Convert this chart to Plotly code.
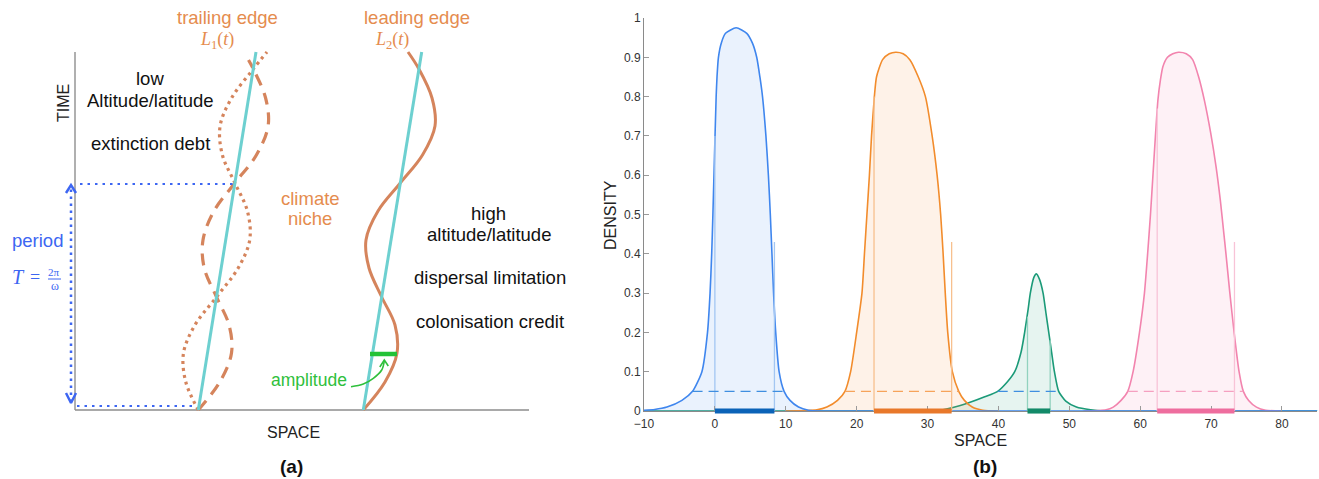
import plotly.graph_objects as go

W, H = 1319, 479
FONT = "Liberation Sans, Arial, sans-serif"
SERIF = "Liberation Serif, DejaVu Serif, serif"

# ---------------- Panel (a): schematic, units = (space s, time t) ----------------
t_pts = [0, 28, 57, 85, 113, 142, 170, 199, 227, 255, 284, 312, 341, 358]
trailing_dotted_s = [123.3, 110.8, 108.5, 120.0, 141.5, 163.2, 174.7, 172.4, 159.9, 147.4, 145.1, 156.6, 178.3, 192.0]
t_dashed = [0, 28, 57, 85, 113, 142, 170, 199, 227, 255, 284, 312, 341, 350]
trailing_dashed_s = [123.3, 144.8, 156.5, 154.0, 141.5, 129.2, 128.0, 139.0, 159.9, 181.4, 193.1, 190.6, 178.3, 173.5]
leading_solid_s = [288.3, 310.0, 322.0, 320.0, 306.7, 294.0, 291.0, 303.0, 325.3, 347.5, 360.0, 357.0, 343.9, 333.0]
niche_t = [0, 358]
trailing_niche_s = [123.3, 181.0]
leading_niche_s = [288.3, 346.7]
axis_a_s = [0, 454]
axis_a_t = [0, 358]
period_t = [4, 226]
period_s = -4
period_top_s = [5, 158]
period_bot_s = [2, 121]
amplitude_t = 56
amplitude_s = [295, 322]
amp_arrow_s = [276, 288.3, 298.3, 306.7, 309.3]
amp_arrow_t = [23.3, 26, 31.7, 40, 49]

# ---------------- Panel (b): densities ----------------
blue_x = [-10, -8.5, -6.76, -4.65, -3.15, -1.83, -1.04, -0.68, -0.45, -0.28, -0.13, 0.02, 0.18, 0.3, 0.5, 0.9, 1.5, 3.0,
          4.5, 5.3, 5.9, 6.35, 6.72, 7.2, 7.55, 7.82, 8.05, 8.28, 8.58, 9.06, 9.76, 10.6, 11.8, 13.2, 15, 85]
blue_y = [0.002, 0.004, 0.01, 0.027, 0.05, 0.1, 0.2, 0.3, 0.4, 0.5, 0.6, 0.7, 0.8, 0.85, 0.9, 0.936, 0.961, 0.975,
          0.961, 0.936, 0.9, 0.85, 0.8, 0.7, 0.6, 0.5, 0.4, 0.3, 0.2, 0.1, 0.05, 0.027, 0.01, 0.002, 0, 0]
orange_x = [10, 14.4, 15.8, 17.3, 18.35, 19.15, 20.0, 20.75, 21.1, 21.45, 21.8, 22.1, 22.5, 22.8, 23.66, 24.6, 25.5,
            26.56, 27.5, 28.7, 29.7, 30.65, 31.35, 31.85, 32.2, 32.5, 32.85, 33.5, 34.4, 35.2, 36.3, 37.8, 40]
orange_y = [0, 0.003, 0.01, 0.027, 0.05, 0.1, 0.2, 0.3, 0.4, 0.5, 0.6, 0.7, 0.8, 0.85, 0.894, 0.909, 0.913,
            0.909, 0.894, 0.85, 0.8, 0.7, 0.6, 0.5, 0.4, 0.3, 0.2, 0.1, 0.05, 0.027, 0.01, 0.002, 0]
green_x = [-10, 28, 31.7, 34.5, 36, 38.07, 39.9, 41.3, 42.3, 43.2, 43.7, 44.2, 44.5, 45.0, 45.35, 45.8, 46.3, 46.7,
           47.1, 47.5, 47.9, 48.5, 49.5, 51, 53, 55, 85]
green_y = [0, 0, 0.002, 0.0135, 0.022, 0.036, 0.05, 0.075, 0.1, 0.15, 0.2, 0.26, 0.3, 0.34, 0.349, 0.335, 0.3, 0.25,
           0.2, 0.15, 0.1, 0.05, 0.025, 0.01, 0.003, 0, 0]
pink_x = [52, 55.2, 56.2, 57.3, 58.25, 59.0, 59.9, 60.6, 61.05, 61.45, 61.8, 62.15, 62.5, 62.85, 63.2, 63.85, 64.6,
          65.4, 66.5, 67.4, 68.25, 69.05, 69.95, 70.7, 71.3, 71.8, 72.1, 72.65, 73.25, 73.95, 74.55, 75.3, 76.4, 77.7, 80]
pink_y = [0, 0.003, 0.01, 0.027, 0.05, 0.1, 0.2, 0.3, 0.4, 0.5, 0.6, 0.7, 0.791, 0.842, 0.876, 0.9, 0.909,
          0.913, 0.909, 0.894, 0.85, 0.791, 0.707, 0.622, 0.537, 0.452, 0.4, 0.3, 0.2, 0.1, 0.05, 0.027, 0.01, 0.002, 0]

# range bounds (bars at zero) and heights of the bounding lines
ranges = {
    "blue": [0.0, 8.4],
    "orange": [22.45, 33.4],
    "green": [44.1, 47.3],
    "pink": [62.4, 73.3],
}
range_heights = {
    "blue": [0.7, 0.43],
    "orange": [0.8, 0.43],
    "green": [0.24, 0.18],
    "pink": [0.77, 0.43],
}
threshold = 0.05
threshold_extent = {
    "blue": [-3.15, 9.76],
    "orange": [18.35, 34.4],
    "green": [39.9, 48.5],
    "pink": [58.25, 74.55],
}
x_ticks = [-10, 0, 10, 20, 30, 40, 50, 60, 70, 80]
y_ticks = [0, 0.1, 0.2, 0.3, 0.4, 0.5, 0.6, 0.7, 0.8, 0.9, 1]
y_ticktext = ["0", "0.1", "0.2", "0.3", "0.4", "0.5", "0.6", "0.7", "0.8", "0.9", "1"]

C = {
    "blue": dict(line="#3f86ee", fill="rgba(63,134,238,0.11)", edge="#a3c6f2", bar="#0b63b8", dash="#3f8ee0"),
    "orange": dict(line="#f28c2c", fill="rgba(242,140,44,0.11)", edge="#f7c08e", bar="#e8782a", dash="#f6a35a"),
    "green": dict(line="#1b9a78", fill="rgba(27,154,120,0.11)", edge="#92d2bf", bar="#138a69", dash="#3f8ee0"),
    "pink": dict(line="#f284ae", fill="rgba(242,132,174,0.11)", edge="#f8c3d7", bar="#ee6d9e", dash="#f5a0c0"),
}

CYAN = "#6dd0d0"
RUST = "#d5845c"
ORANGE_TXT = "#e58c4e"
BLUE_TXT = "#3d66f2"
GREEN_TXT = "#2fc03c"
TXT = 18.5

fig = go.Figure()

# ---- panel (a) ----
def a_line(s, t, color, width, dash=None, shape="linear"):
    fig.add_trace(go.Scatter(x=s, y=t, mode="lines", xaxis="x", yaxis="y", hoverinfo="skip",
                             line=dict(color=color, width=width, dash=dash, shape=shape, smoothing=1.0)))

a_line([0, 0], axis_a_t, "#b0b0b0", 2)
a_line(axis_a_s, [0, 0], "#8c8c8c", 1.5)
a_line(trailing_dotted_s, t_pts, RUST, 3.2, dash="3px,4px", shape="spline")
a_line(trailing_dashed_s, t_dashed, RUST, 3.2, dash="12px,8px", shape="spline")
a_line(leading_solid_s, t_pts, RUST, 3, shape="spline")
a_line(trailing_niche_s, niche_t, CYAN, 3)
a_line(leading_niche_s, niche_t, CYAN, 3)
# period
a_line([period_s, period_s], [period_t[0] + 4, period_t[1] - 4], BLUE_TXT, 2.5, dash="2.5px,4.5px")
a_line([period_top_s[0], period_top_s[1]], [period_t[1], period_t[1]], BLUE_TXT, 2, dash="2.5px,5px")
a_line([period_bot_s[0], period_bot_s[1]], [period_t[0], period_t[0]], BLUE_TXT, 2, dash="2.5px,5px")
a_line([period_s - 5, period_s, period_s + 5], [period_t[1] - 9, period_t[1] - 1, period_t[1] - 9], BLUE_TXT, 2.5)
a_line([period_s - 5, period_s, period_s + 5], [period_t[0] + 13, period_t[0] + 3, period_t[0] + 13], BLUE_TXT, 2.5)
# amplitude
a_line(amplitude_s, [amplitude_t, amplitude_t], "#22c236", 4.5)
a_line(amp_arrow_s, amp_arrow_t, GREEN_TXT, 1.6, shape="spline")
a_line([amp_arrow_s[-1] - 4.5, amp_arrow_s[-1], amp_arrow_s[-1] + 4], [amp_arrow_t[-1] - 6, amp_arrow_t[-1] + 1, amp_arrow_t[-1] - 5],
       GREEN_TXT, 1.6)

# ---- panel (b) ----
curves = [("green", green_x, green_y), ("orange", orange_x, orange_y), ("pink", pink_x, pink_y), ("blue", blue_x, blue_y)]
for name, xs, ys in curves:
    fig.add_trace(go.Scatter(x=xs, y=ys, mode="lines", xaxis="x2", yaxis="y2", fill="tozeroy",
                             fillcolor=C[name]["fill"], hoverinfo="skip",
                             line=dict(color=C[name]["line"], width=1.6, shape="spline", smoothing=0.6)))
for name, xs, ys in curves:
    r = ranges[name]
    h = range_heights[name]
    for xv, hv in zip(r, h):
        fig.add_trace(go.Scatter(x=[xv, xv], y=[0, hv], mode="lines", xaxis="x2", yaxis="y2", hoverinfo="skip",
                                 line=dict(color=C[name]["edge"], width=1.3)))
    e = threshold_extent[name]
    fig.add_trace(go.Scatter(x=e, y=[threshold, threshold], mode="lines", xaxis="x2", yaxis="y2", hoverinfo="skip",
                             line=dict(color=C[name]["dash"], width=1.3, dash="10px,6px")))

shapes = []
for name in ranges:
    r = ranges[name]
    shapes.append(dict(type="rect", xref="x2", yref="y2 domain", x0=r[0], x1=r[1], y0=-0.0065, y1=0.0065,
                       fillcolor=C[name]["bar"], line=dict(width=0), layer="above"))

ann = []
def A(text, px, py, size=TXT, color="#111111", family=FONT, **kw):
    ann.append(dict(text=text, x=px / W, y=1 - py / H, xref="paper", yref="paper", showarrow=False,
                    font=dict(size=size, color=color, family=family), xanchor="center", yanchor="middle", **kw))

A("trailing edge", 227, 17, TXT, ORANGE_TXT)
A("<i>L</i><sub>1</sub>(<i>t</i>)", 217, 41, 18, ORANGE_TXT, SERIF)
A("leading edge", 417, 17, TXT, ORANGE_TXT)
A("<i>L</i><sub>2</sub>(<i>t</i>)", 392, 41, 18, ORANGE_TXT, SERIF)
A("low", 150, 78)
A("Altitude/latitude", 150, 100)
A("extinction debt", 150, 143)
A("climate", 310, 198, TXT, ORANGE_TXT)
A("niche", 310, 218, TXT, ORANGE_TXT)
A("high", 489, 213)
A("altitude/latitude", 489, 234)
A("dispersal limitation", 490, 277)
A("colonisation credit", 490, 321)
A("amplitude", 309, 380, 17.5, GREEN_TXT)
A("period", 37, 240, TXT, BLUE_TXT)
A("<i>T</i>", 18, 277, 20, BLUE_TXT, SERIF)
A("=", 35, 277, 18, BLUE_TXT, SERIF)
A("2π", 54, 272, 11, BLUE_TXT, SERIF)
A("ω", 55, 286, 12, BLUE_TXT, SERIF)
A("TIME", 63, 103, 16, "#222222", textangle=-90)
A("SPACE", 293, 432, 16, "#222222")
A("<b>(a)</b>", 291, 466, 19, "#111111")
A("DENSITY", 611, 215, 16, "#222222", textangle=-90)
A("SPACE", 980, 440, 16, "#222222")
A("<b>(b)</b>", 985, 466, 19, "#111111")

shapes.append(dict(type="line", xref="paper", yref="paper", x0=48 / W, x1=61 / W, y0=1 - 279 / H, y1=1 - 279 / H,
                   line=dict(color=BLUE_TXT, width=1)))

fig.update_layout(
    width=W, height=H, margin=dict(l=0, r=0, t=0, b=0, autoexpand=False),
    paper_bgcolor="white", plot_bgcolor="rgba(0,0,0,0)", showlegend=False,
    xaxis=dict(domain=[0, 600 / W], range=[-75, 525], visible=False, fixedrange=True),
    yaxis=dict(domain=[0, 1], range=[-69, 410], visible=False, fixedrange=True),
    xaxis2=dict(domain=[644 / W, 1317.4 / W], range=[-10, 85], anchor="y2", showline=True, linecolor="#8a8a8a",
                linewidth=1, ticks="inside", ticklen=5, tickcolor="#9a9a9a", tickvals=x_ticks, ticklabelstandoff=2,
                tickfont=dict(size=12, color="#333333", family=FONT), showgrid=False, zeroline=False, automargin=False),
    yaxis2=dict(domain=[1 - 411 / H, 1 - 18 / H], range=[0, 1], anchor="x2", showline=True, linecolor="#8a8a8a",
                linewidth=1, ticks="inside", ticklen=5, tickcolor="#9a9a9a", tickvals=y_ticks, ticktext=y_ticktext,
                tickfont=dict(size=12, color="#333333", family=FONT), showgrid=False, zeroline=False, automargin=False),
    shapes=shapes, annotations=ann,
)

fig.write_html(
    "out.html",
    config={"displayModeBar": False, "responsive": False},
    post_script="document.body.style.margin='0';document.body.style.padding='0';"
                "document.body.style.overflow='hidden';document.documentElement.style.overflow='hidden';",
)
